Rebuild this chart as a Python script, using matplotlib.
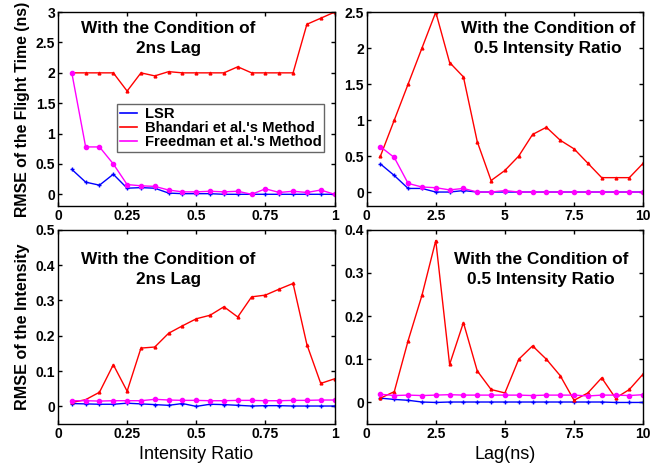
import matplotlib
matplotlib.use("Agg")
import matplotlib.pyplot as plt
from matplotlib.lines import Line2D
from matplotlib.ticker import FixedLocator

plt.rcParams["font.family"] = ["Liberation Sans", "DejaVu Sans"]

# x values
ratio = [0.05, 0.1, 0.15, 0.2, 0.25, 0.3, 0.35, 0.4, 0.45, 0.5,
         0.55, 0.6, 0.65, 0.7, 0.75, 0.8, 0.85, 0.9, 0.95, 1.0]
lag = [0.5, 1.0, 1.5, 2.0, 2.5, 3.0, 3.5, 4.0, 4.5, 5.0,
       5.5, 6.0, 6.5, 7.0, 7.5, 8.0, 8.5, 9.0, 9.5, 10.0]

# RMSE of the flight time, 2ns lag
ft_lag_lsr = [0.41, 0.2, 0.15, 0.33, 0.1, 0.11, 0.1, 0.02, 0.01, 0.01,
              0.01, 0.0, 0.0, 0.0, 0.0, 0.0, 0.0, 0.0, 0.0, 0.0]
ft_lag_bha = [2.0, 2.0, 2.0, 2.0, 1.7, 2.0, 1.95, 2.02, 2.0, 2.0,
              2.0, 2.0, 2.1, 2.0, 2.0, 2.0, 2.0, 2.8, 2.9, 3.0]
ft_lag_fre = [2.0, 0.78, 0.78, 0.5, 0.16, 0.14, 0.13, 0.07, 0.04, 0.04,
              0.05, 0.04, 0.05, 0.0, 0.09, 0.03, 0.05, 0.03, 0.07, 0.0]

# RMSE of the flight time, 0.5 intensity ratio
ft_ir_lsr = [0.39, 0.23, 0.05, 0.05, 0.0, 0.0, 0.02, 0.0, 0.0, 0.0,
             0.0, 0.0, 0.0, 0.0, 0.0, 0.0, 0.0, 0.0, 0.0, 0.0]
ft_ir_bha = [0.5, 1.0, 1.5, 2.0, 2.5, 1.8, 1.6, 0.7, 0.16, 0.3,
             0.5, 0.8, 0.9, 0.72, 0.6, 0.4, 0.2, 0.2, 0.2, 0.4]
ft_ir_fre = [0.63, 0.48, 0.12, 0.07, 0.06, 0.03, 0.05, 0.0, 0.0, 0.02,
             0.0, 0.0, 0.0, 0.0, 0.0, 0.0, 0.0, 0.0, 0.0, 0.0]

# RMSE of the intensity, 2ns lag
in_lag_lsr = [0.008, 0.007, 0.006, 0.006, 0.009, 0.007, 0.005, 0.003, 0.008, 0.0,
              0.006, 0.005, 0.003, 0.001, 0.002, 0.002, 0.001, 0.001, 0.001, 0.001]
in_lag_bha = [0.011, 0.019, 0.04, 0.118, 0.043, 0.165, 0.168, 0.207, 0.228, 0.248,
              0.258, 0.282, 0.253, 0.31, 0.315, 0.332, 0.348, 0.175, 0.065, 0.078]
in_lag_fre = [0.016, 0.016, 0.015, 0.016, 0.016, 0.016, 0.02, 0.018, 0.017, 0.017,
              0.016, 0.016, 0.017, 0.017, 0.016, 0.016, 0.017, 0.017, 0.018, 0.018]

# RMSE of the intensity, 0.5 intensity ratio
in_ir_lsr = [0.01, 0.007, 0.005, 0.001, 0.0, 0.001, 0.001, 0.001, 0.001, 0.001,
             0.001, 0.001, 0.001, 0.001, 0.001, 0.001, 0.001, 0.0, 0.0, 0.0]
in_ir_bha = [0.01, 0.025, 0.143, 0.248, 0.375, 0.088, 0.185, 0.073, 0.03, 0.022,
             0.1, 0.131, 0.1, 0.062, 0.005, 0.022, 0.057, 0.01, 0.03, 0.066]
in_ir_fre = [0.019, 0.016, 0.017, 0.016, 0.017, 0.018, 0.017, 0.017, 0.017, 0.017,
             0.017, 0.016, 0.017, 0.017, 0.017, 0.015, 0.017, 0.017, 0.016, 0.018]

labels = ["LSR", "Bhandari et al.'s Method", "Freedman et al.'s Method"]
colors = ["#0000ff", "#ff0000", "#ff00ff"]
ratio_ticks = [0, 0.25, 0.5, 0.75, 1]
ratio_ticklabels = ["0", "0.25", "0.5", "0.75", "1"]
lag_ticks = [0, 2.5, 5, 7.5, 10]
lag_ticklabels = ["0", "2.5", "5", "7.5", "10"]

fig, axs = plt.subplots(2, 2, figsize=(6.59, 4.67), dpi=100)
plt.subplots_adjust(left=0.088, right=0.976, top=0.974, bottom=0.092,
                    wspace=0.116, hspace=0.12)

panels = [
    (axs[0, 0], ratio, ft_lag_lsr, ft_lag_bha, ft_lag_fre, (-0.2, 3), [0, 0.5, 1, 1.5, 2, 2.5, 3],
     ["0", "0.5", "1", "1.5", "2", "2.5", "3"], "With the Condition of\n2ns Lag", 0.40, 0.955),
    (axs[0, 1], lag, ft_ir_lsr, ft_ir_bha, ft_ir_fre, (-0.2, 2.5), [0, 0.5, 1, 1.5, 2, 2.5],
     ["0", "0.5", "1", "1.5", "2", "2.5"], "With the Condition of\n0.5 Intensity Ratio", 0.655, 0.955),
    (axs[1, 0], ratio, in_lag_lsr, in_lag_bha, in_lag_fre, (-0.05, 0.5), [0, 0.1, 0.2, 0.3, 0.4, 0.5],
     ["0", "0.1", "0.2", "0.3", "0.4", "0.5"], "With the Condition of\n2ns Lag", 0.40, 0.885),
    (axs[1, 1], lag, in_ir_lsr, in_ir_bha, in_ir_fre, (-0.05, 0.4), [0, 0.1, 0.2, 0.3, 0.4],
     ["0", "0.1", "0.2", "0.3", "0.4"], "With the Condition of\n0.5 Intensity Ratio", 0.63, 0.885),
]

for ax, x, lsr, bha, fre, ylim, yt, ytl, title, tx, ty in panels:
    ax.plot(x, lsr, color=colors[0], lw=1, marker="+", ms=3, mew=1)
    ax.plot(x, bha, color=colors[1], lw=1, marker="^", ms=2)
    ax.plot(x, fre, color=colors[2], lw=1, marker="o", ms=3)
    ax.set_ylim(*ylim)
    ax.yaxis.set_major_locator(FixedLocator(yt))
    ax.set_yticklabels(ytl)
    if x is ratio:
        ax.set_xlim(0, 1)
        ax.set_xticks(ratio_ticks)
        ax.set_xticklabels(ratio_ticklabels)
    else:
        ax.set_xlim(0, 10)
        ax.set_xticks(lag_ticks)
        ax.set_xticklabels(lag_ticklabels)
    ax.tick_params(direction="in", top=True, right=True, length=3, width=1,
                   labelsize=10, pad=2)
    for lab in ax.get_xticklabels() + ax.get_yticklabels():
        lab.set_fontweight("bold")
    for s in ax.spines.values():
        s.set_linewidth(1)
    ax.text(tx, ty, title, transform=ax.transAxes, ha="center", va="top",
            multialignment="center", fontsize=12.4, fontweight="bold", linespacing=1.45)

handles = [Line2D([], [], color=c, lw=1.2) for c in colors]
leg = axs[0, 0].legend(handles, labels, loc="upper left", bbox_to_anchor=(0.186, 0.565),
                       handlelength=1.2, handletextpad=0.5, borderpad=0.2,
                       labelspacing=0.0, fancybox=False, edgecolor="#404040",
                       prop={"weight": "bold", "size": 10.6})
leg.get_frame().set_linewidth(1)

axs[0, 0].set_ylabel("RMSE of the Flight Time (ns)", fontsize=11.4, fontweight="bold", labelpad=4)
axs[1, 0].set_ylabel("RMSE of the Intensity", fontsize=11.6, fontweight="bold", labelpad=4)
narrow = ["Liberation Sans Narrow", "Liberation Sans", "DejaVu Sans"]
axs[1, 0].set_xlabel("Intensity Ratio", fontsize=13, family=narrow, labelpad=4)
axs[1, 1].set_xlabel("Lag(ns)", fontsize=13, family=narrow, labelpad=4)

fig.savefig("out.png", dpi=100)
